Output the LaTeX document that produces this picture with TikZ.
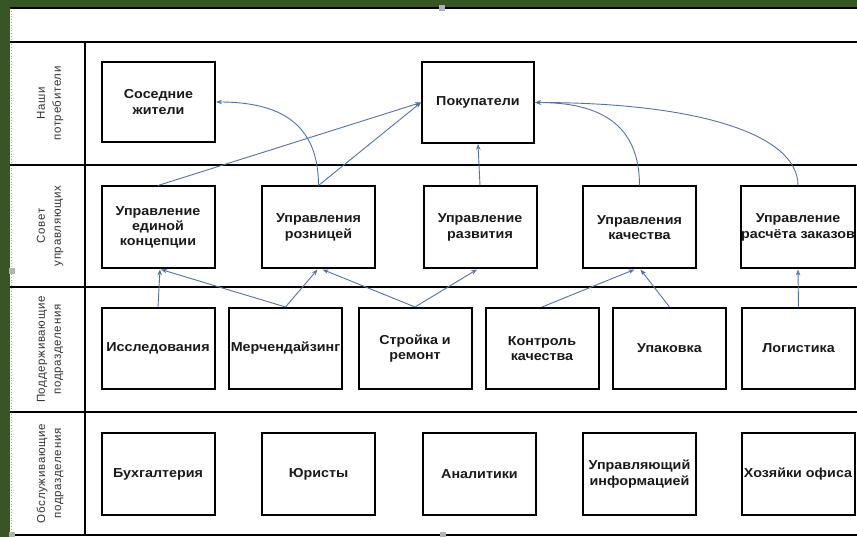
\documentclass[tikz,border=0pt]{standalone}
\usepackage{fontspec}
\setmainfont{Liberation Sans}
\newfontfamily\lanefont[LetterSpace=6]{Liberation Sans}
\newfontfamily\boxfont[FakeStretch=1.1]{Liberation Sans}
\usetikzlibrary{arrows.meta,calc}
\definecolor{bggreen}{RGB}{56,86,35}
\definecolor{connclr}{RGB}{84,115,165}
\begin{document}
\begin{tikzpicture}[x=1pt,y=-1pt,
  box/.style={draw=black,line width=2pt,minimum width=113pt,minimum height=81pt,inner sep=0.5pt,align=center,
    font=\boxfont\fontsize{13}{15.3}\selectfont\bfseries,text=black!90},
  lane/.style={rotate=90,align=center,font=\lanefont\fontsize{11.5}{16}\selectfont,text=black!80},
  conn/.style={draw=connclr,line width=0.9pt,-{Stealth[length=6pt,width=4.5pt]}},
  rule/.style={line width=2.5pt,black},
  handle/.style={fill=gray!60}]
\useasboundingbox (0,0) rectangle (857,537);
\fill[bggreen] (0,0) rectangle (857,537);
\fill[white] (10,8) rectangle (857,537);
\draw[gray!70,dotted,line width=0.8pt] (11.5,8) -- (11.5,537);
% table rules
\draw[rule] (10,8) -- (857,8);
\draw[rule] (10,42) -- (857,42);
\draw[rule] (10,165) -- (857,165);
\draw[rule] (10,287) -- (857,287);
\draw[rule] (10,412) -- (857,412);
\draw[rule] (10,535) -- (857,535);
\draw[line width=1.5pt] (85,42) -- (85,535);
% selection handles
\fill[handle] (439,5) rectangle (445,11);
\fill[handle] (9,268) rectangle (15,274);
\fill[handle] (9,532) rectangle (15,537);
\fill[handle] (440,532) rectangle (446,537);
% lane labels
\node[lane] (l1) at (50,103.5) {Наши\\потребители};
\node[lane] (l2) at (50,226) {Совет\\управляющих};
\node[lane] (l3) at (50,349.5) {Поддерживающие\\подразделения};
\node[lane] (l4) at (50,473.5) {Обслуживающие\\подразделения};
% row 1
\node[box,minimum height=80pt] (s) at (158.5,102) {Соседние\\жители};
\node[box,minimum width=112pt] (p) at (478,102.5) {Покупатели};
% row 2
\node[box,minimum height=82pt] (u1) at (158,227.5) {Управление\\единой\\концепции};
\node[box,minimum height=82pt] (u2) at (318.5,227.5) {Управления\\розницей};
\node[box,minimum height=82pt] (u3) at (480,227.5) {Управление\\развития};
\node[box,minimum height=82pt] (u4) at (639.5,227.5) {Управления\\качества};
\node[box,minimum height=82pt] (u5) at (798,227.5) {Управление\\расчёта заказов};
% row 3
\node[box] (r1) at (158,348.5) {Исследования};
\node[box] (r2) at (285.5,348.5) {Мерчендайзинг};
\node[box] (r3) at (415,348.5) {Стройка и\\ремонт};
\node[box] (r4) at (542,348.5) {Контроль\\качества};
\node[box] (r5) at (669.5,348.5) {Упаковка};
\node[box] (r6) at (798.5,348.5) {Логистика};
% row 4
\node[box,minimum height=82pt] (o1) at (158,474) {Бухгалтерия};
\node[box,minimum height=82pt] (o2) at (318.5,474) {Юристы};
\node[box,minimum height=82pt] (o3) at (479.5,474) {Аналитики};
\node[box,minimum height=82pt] (o4) at (639.5,474) {Управляющий\\информацией};
\node[box,minimum height=82pt] (o5) at (798,474) {Хозяйки офиса};
% connectors row 2 -> row 1
\draw[conn] (u1.north) -- (p.west);
\draw[conn] (u2.north) .. controls ($(u2.north)+(0,-62)$) and ($(s.east)+(64,0)$) .. (s.east);
\draw[conn] (u2.north) -- (p.west);
\draw[conn] (u3.north) -- (p.south);
\draw[conn] (u4.north) .. controls ($(u4.north)+(0,-62)$) and ($(p.east)+(64,0)$) .. (p.east);
\draw[conn] (u5.north) .. controls ($(u5.north)+(0,-52)$) and ($(p.east)+(160,0)$) .. (p.east);
% connectors row 3 -> row 2
\draw[conn] (r1.north) -- ([xshift=2pt]u1.south);
\draw[conn] (r2.north) -- ([xshift=3pt]u1.south);
\draw[conn] (r2.north) -- ([xshift=-1pt]u2.south);
\draw[conn] (r3.north) -- ([xshift=4pt]u2.south);
\draw[conn] (r3.north) -- ([xshift=-3pt]u3.south);
\draw[conn] (r4.north) -- ([xshift=-5pt]u4.south);
\draw[conn] (r5.north) -- ([xshift=1pt]u4.south);
\draw[conn] (r6.north) -- (u5.south);
\end{tikzpicture}
\end{document}
